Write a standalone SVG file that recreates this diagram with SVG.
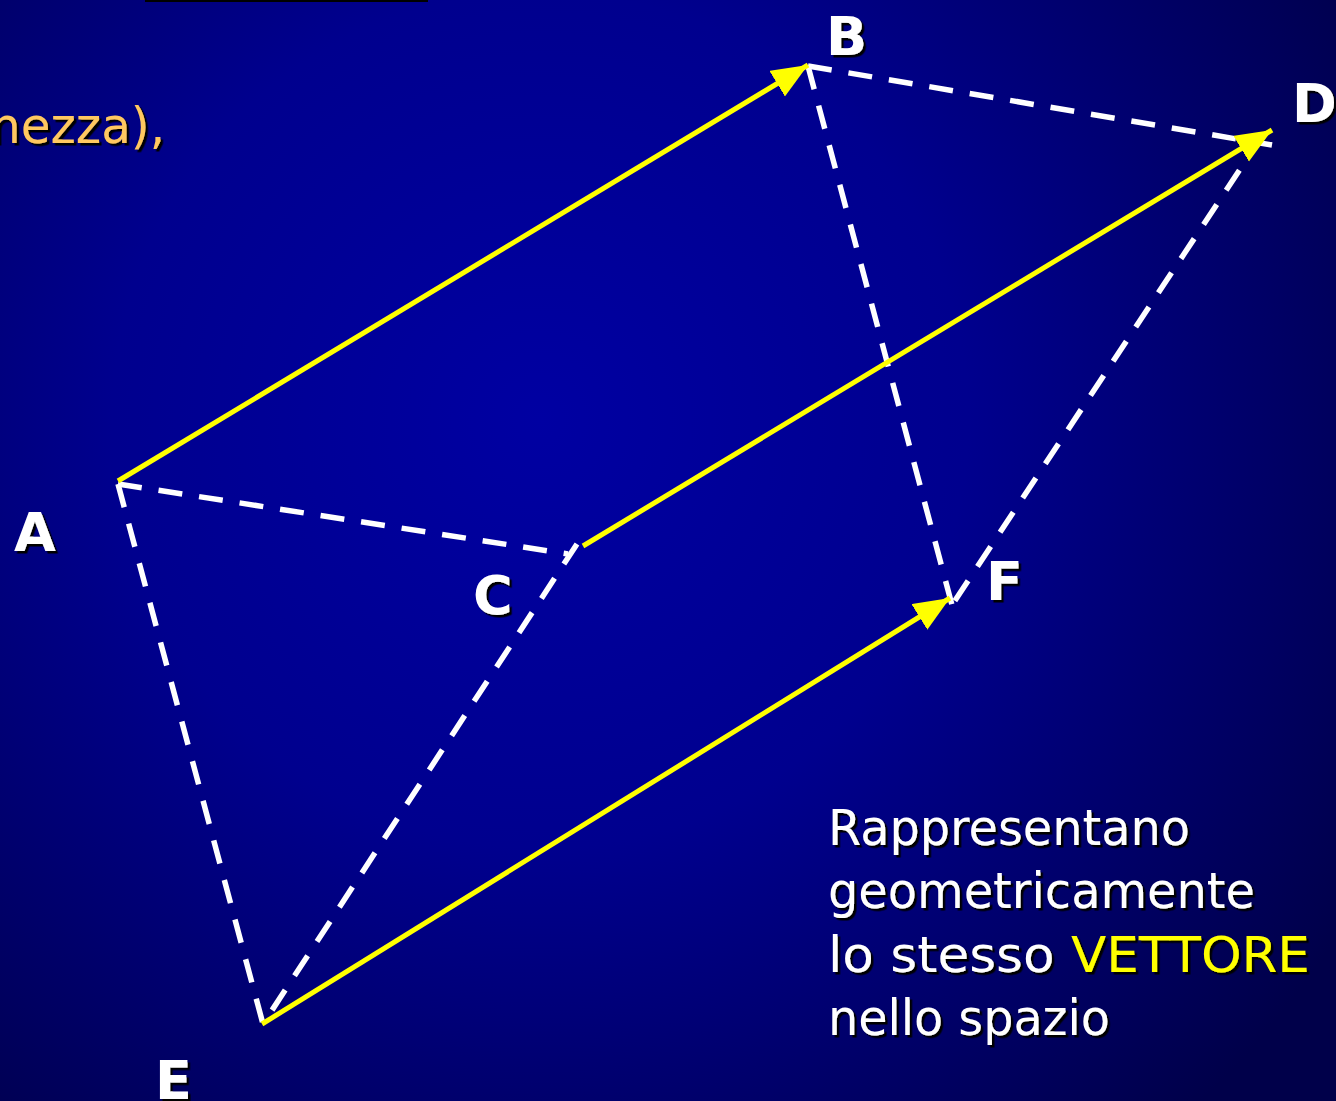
<svg xmlns="http://www.w3.org/2000/svg" width="1336" height="1101" viewBox="0 0 1336 1101">
<defs>
<radialGradient id="bg" gradientUnits="userSpaceOnUse" cx="540" cy="420" r="950">
<stop offset="0" stop-color="#0000A2"/>
<stop offset="0.45" stop-color="#00008E"/>
<stop offset="1" stop-color="#00004A"/>
</radialGradient>
<filter id="sh" x="-10%" y="-10%" width="130%" height="130%">
<feDropShadow dx="2.5" dy="2.5" stdDeviation="0.6" flood-color="#000" flood-opacity="1"/>
</filter>
<marker id="ah" markerUnits="userSpaceOnUse" markerWidth="40" markerHeight="34" refX="36" refY="15" orient="auto">
<path d="M0,0 L36,15 L0,30 Z" fill="#FFFF00"/>
</marker>
</defs>
<style>
.vec{stroke:#FFFF00;stroke-width:5;fill:none}
.dash{stroke:#FFFFFF;stroke-width:5.5;fill:none;stroke-dasharray:24 17}
.lbl{font-family:"DejaVu Sans","Liberation Sans",sans-serif;font-weight:bold;font-size:54px;fill:#FFFFFF;filter:url(#sh)}
.txt{font-family:"DejaVu Sans","Liberation Sans",sans-serif;font-size:50px;fill:#FFFFFF;filter:url(#sh)}
</style>
<rect x="0" y="0" width="1336" height="1101" fill="url(#bg)"/>
<rect x="145" y="0" width="283" height="2" fill="#000"/>
<text x="165" y="143" text-anchor="end" class="txt" style="fill:#FFC860" textLength="175" lengthAdjust="spacingAndGlyphs">nezza),</text>
<g id="connectors">
<line class="dash" x1="118" y1="484" x2="568" y2="554"/>
<line class="dash" x1="118" y1="484" x2="263" y2="1024"/>
<line class="dash" x1="577" y1="544" x2="263" y2="1024"/>
<line class="dash" x1="808" y1="66" x2="952" y2="605"/>
<line class="dash" x1="808" y1="66" x2="1272" y2="145"/>
<line class="dash" x1="1262" y1="136" x2="952" y2="605"/>
<line class="vec" x1="118" y1="481" x2="808" y2="65" marker-end="url(#ah)"/>
<line class="vec" x1="583" y1="546" x2="1272" y2="130" marker-end="url(#ah)"/>
<line class="vec" x1="262" y1="1024" x2="950" y2="598" marker-end="url(#ah)"/>
</g>
<g id="A"><text class="lbl" x="14" y="551">A</text></g>
<g id="B"><text class="lbl" x="826" y="55">B</text></g>
<g id="C"><text class="lbl" x="473" y="614">C</text></g>
<g id="D"><text class="lbl" x="1292" y="122">D</text></g>
<g id="E"><text class="lbl" x="155" y="1099">E</text></g>
<g id="F"><text class="lbl" x="986" y="600">F</text></g>
<g id="caption">
<text class="txt" x="828" y="845" textLength="362" lengthAdjust="spacingAndGlyphs">Rappresentano</text>
<text class="txt" x="828" y="908" textLength="427" lengthAdjust="spacingAndGlyphs">geometricamente</text>
<text class="txt" x="828" y="972" textLength="482" lengthAdjust="spacingAndGlyphs">lo stesso <tspan style="fill:#FFFF00">VETTORE</tspan></text>
<text class="txt" x="828" y="1035" textLength="282" lengthAdjust="spacingAndGlyphs">nello spazio</text>
</g>
</svg>
